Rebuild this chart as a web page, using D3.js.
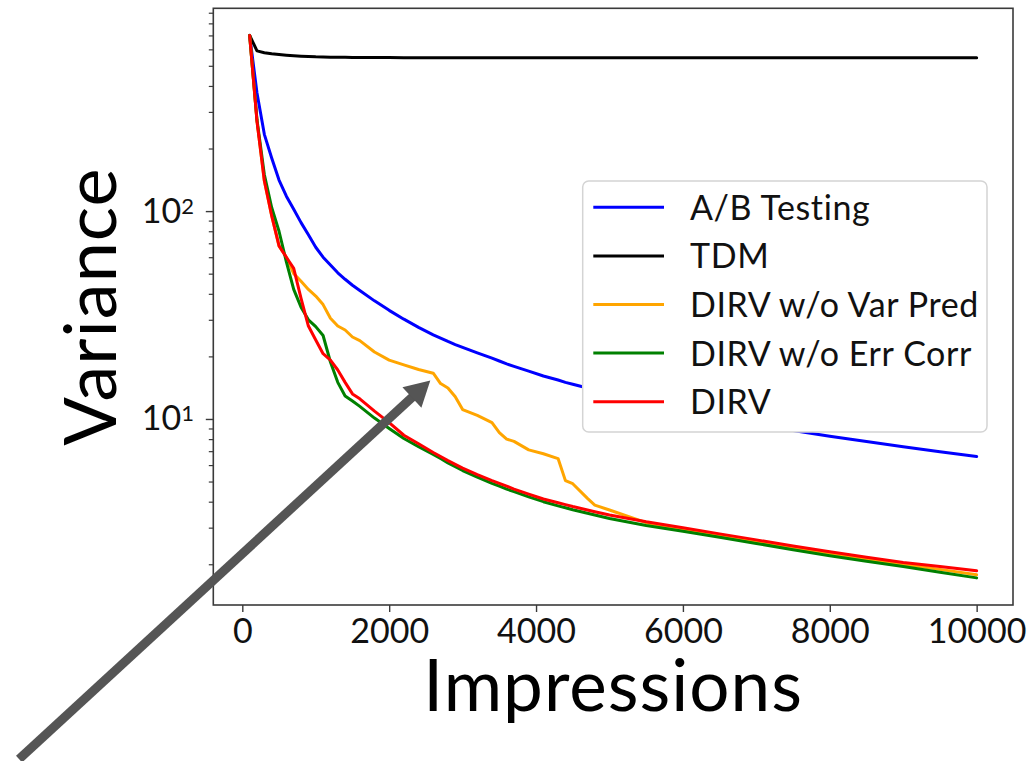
<!DOCTYPE html>
<html>
<head>
<meta charset="utf-8">
<script src="https://cdn.jsdelivr.net/npm/d3@7/dist/d3.min.js"></script>
<style>
  html, body { margin: 0; padding: 0; background: #fff; }
  svg { display: block; font-family: Lato, "Open Sans", sans-serif; }
</style>
</head>
<body>
<svg id="chart" width="1033" height="761"></svg>
<script>
// Impressions at which each variance estimate was recorded
const impressions = [100,200,300,400,500,600,700,800,900,1000,1100,1200,1300,1400,1500,1600,1800,2000,2200,2400,2600,2700,2800,2900,3000,3200,3400,3500,3600,3700,3900,4100,4300,4400,4500,4700,4800,5000,5500,6000,6500,7000,7500,8000,8500,9000,9500,10000];

const abTesting = [700,370,234,180,141,118,102,88,77,67,60,55,50.5,47,44,41.5,37,33.3,30.2,27.6,25.4,24.5,23.6,22.8,22.1,20.8,19.6,19.0,18.4,17.9,17.0,16.1,15.4,15.0,14.7,14.1,13.8,13.2,12.0,11.0,10.2,9.45,8.8,8.25,7.8,7.35,6.95,6.6];

const tdm = [700,590,578,571,566,562,559,556,554,552,551,550,549,549,548,548,548,548,547,547,547,547,547,547,547,547,547,547,547,547,547,547,547,547,547,546,546,546,546,546,546,546,546,546,546,546,546,546];

const dirvNoVarPred = [700,270,140,95,68,60,50,46,42,39,35.5,30.5,28,26.8,24.8,23.8,21,19.2,18.2,17.3,16.6,14.8,14.1,12.8,11.1,10.4,9.6,8.6,8.0,7.8,7.1,6.8,6.45,5.05,4.88,4.15,3.85,3.65,3.17,2.95,2.76,2.58,2.41,2.26,2.12,2.0,1.89,1.78];

const dirvNoErrCorr = [700,275,150,104,80,57,42,34.5,30,27.8,25.2,18.8,15.0,12.9,12.2,11.5,10.1,9.0,8.05,7.35,6.75,6.45,6.15,5.9,5.65,5.25,4.9,4.75,4.6,4.47,4.22,4.0,3.82,3.74,3.66,3.52,3.45,3.32,3.07,2.88,2.7,2.52,2.35,2.2,2.07,1.95,1.83,1.72];

const dirv = [700,270,140,95,68,60,53,38,28,24,20.6,19.2,17.2,15.0,13.2,12.5,10.9,9.6,8.35,7.6,6.9,6.6,6.3,6.05,5.8,5.4,5.05,4.9,4.75,4.6,4.35,4.12,3.95,3.87,3.79,3.65,3.58,3.45,3.2,3.0,2.8,2.62,2.45,2.3,2.16,2.04,1.95,1.86];

const seriesNames  = ["A/B Testing", "TDM", "DIRV w/o Var Pred", "DIRV w/o Err Corr", "DIRV"];
const seriesColors = ["#0000ff", "#000000", "#ffa500", "#008000", "#ff0000"];
const seriesValues = [abTesting, tdm, dirvNoVarPred, dirvNoErrCorr, dirv];

const xTickValues = [0, 2000, 4000, 6000, 8000, 10000];
const yMajorTicks = [10, 100];

// Annotation arrow, in data units: from outside the axes toward the Var Pred step
const arrowTail = { x: -3040, y: 0.231 };
const arrowTip  = { x: 2560, y: 15.3 };

const svg = d3.select("#chart");
const plot = { left: 213.3, top: 8.3, right: 1013, bottom: 605 };

// 5% padding around the data, linear in x and in log space for y
const xMin = d3.min(impressions), xMax = d3.max(impressions);
const xPad = (xMax - xMin) * 0.05;
const allVals = seriesValues.flat();
const lMin = Math.log10(d3.min(allVals)), lMax = Math.log10(d3.max(allVals));
const lPad = (lMax - lMin) * 0.05;

const x = d3.scaleLinear().domain([xMin - xPad, xMax + xPad]).range([plot.left, plot.right]);
const y = d3.scaleLog().domain([Math.pow(10, lMin - lPad), Math.pow(10, lMax + lPad)]).range([plot.bottom, plot.top]);

svg.append("defs").append("clipPath").attr("id", "plotClip")
  .append("rect")
  .attr("x", plot.left).attr("y", plot.top)
  .attr("width", plot.right - plot.left).attr("height", plot.bottom - plot.top);

// Data lines
const line = d3.line().x(d => x(d.x)).y(d => y(d.y));
const linesG = svg.append("g").attr("clip-path", "url(#plotClip)");
seriesValues.forEach((vals, i) => {
  const pts = impressions.map((imp, j) => ({ x: imp, y: vals[j] }));
  linesG.append("path")
    .datum(pts)
    .attr("d", line)
    .attr("fill", "none")
    .attr("stroke", seriesColors[i])
    .attr("stroke-width", 3)
    .attr("stroke-linejoin", "round")
    .attr("stroke-linecap", "round");
});

// Axes frame
const axisColor = "#3a3a3a";
svg.append("rect")
  .attr("x", plot.left).attr("y", plot.top)
  .attr("width", plot.right - plot.left).attr("height", plot.bottom - plot.top)
  .attr("fill", "none").attr("stroke", axisColor).attr("stroke-width", 1.6);

// X axis
const xAxis = d3.axisBottom(x).tickValues(xTickValues).tickSize(7).tickPadding(6).tickFormat(d3.format("d"));
const xg = svg.append("g").attr("transform", `translate(0,${plot.bottom})`).call(xAxis);
xg.select(".domain").remove();
xg.selectAll(".tick line").attr("stroke", axisColor).attr("stroke-width", 1.4);
xg.selectAll(".tick text")
  .attr("fill", "#111").attr("font-size", 34).attr("font-family", "Lato, sans-serif")
  .attr("dy", "0.74em");

// Y axis: minor ticks
const [yLo, yHi] = y.domain();
const minorTicks = [];
for (let k = Math.floor(Math.log10(yLo)); k <= Math.ceil(Math.log10(yHi)); k++) {
  for (let m = 2; m <= 9; m++) {
    const v = m * Math.pow(10, k);
    if (v >= yLo && v <= yHi) minorTicks.push(v);
  }
}
const yMinor = d3.axisLeft(y).tickValues(minorTicks).tickSize(4.5).tickFormat("");
const ymg = svg.append("g").attr("transform", `translate(${plot.left},0)`).call(yMinor);
ymg.select(".domain").remove();
ymg.selectAll(".tick line").attr("stroke", axisColor).attr("stroke-width", 1.2);

// Y axis: major ticks with 10^k labels
const yMajor = d3.axisLeft(y).tickValues(yMajorTicks).tickSize(7.5).tickFormat("");
const yg = svg.append("g").attr("transform", `translate(${plot.left},0)`).call(yMajor);
yg.select(".domain").remove();
yg.selectAll(".tick line").attr("stroke", axisColor).attr("stroke-width", 1.4);
yMajorTicks.forEach(v => {
  const t = svg.append("text")
    .attr("x", 194).attr("y", y(v) + 11.5)
    .attr("text-anchor", "end")
    .attr("font-size", 34).attr("fill", "#111");
  t.append("tspan").text("10");
  t.append("tspan").attr("font-size", 22).attr("dy", -9).text(String(Math.round(Math.log10(v))));
});

// Axis titles
svg.append("text")
  .attr("x", (plot.left + plot.right) / 2).attr("y", 711)
  .attr("text-anchor", "middle").attr("font-size", 71).attr("letter-spacing", 1)
  .attr("fill", "#000")
  .text("Impressions");
svg.append("text")
  .attr("transform", `translate(116,${(plot.top + plot.bottom) / 2}) rotate(-90)`)
  .attr("text-anchor", "middle").attr("font-size", 72).attr("letter-spacing", 1)
  .attr("fill", "#000")
  .text("Variance");

// Legend
const lg = svg.append("g");
lg.append("rect")
  .attr("x", 582.7).attr("y", 181).attr("width", 404.3).attr("height", 251)
  .attr("rx", 6).attr("ry", 6)
  .attr("fill", "#fff").attr("stroke", "#d4d4d4").attr("stroke-width", 1.5);
seriesNames.forEach((name, i) => {
  const cy = 207.3 + i * 48.6;
  lg.append("line")
    .attr("x1", 593.3).attr("x2", 664).attr("y1", cy).attr("y2", cy)
    .attr("stroke", seriesColors[i]).attr("stroke-width", 3);
  lg.append("text")
    .attr("x", 690).attr("y", cy + 12.5)
    .attr("font-size", 34).attr("letter-spacing", 0.6).attr("fill", "#111")
    .text(name);
});

// Annotation arrow
const arrowColor = "#555555";
const tx = x(arrowTail.x), ty = y(arrowTail.y);
const hx = x(arrowTip.x), hy = y(arrowTip.y);
const dx = hx - tx, dy = hy - ty, len = Math.hypot(dx, dy);
const ux = dx / len, uy = dy / len, px = -uy, py = ux;
const headLen = 25, headHalf = 14;
const bx = hx - ux * headLen, by = hy - uy * headLen;
svg.append("line")
  .attr("x1", tx).attr("y1", ty).attr("x2", bx + ux * 2).attr("y2", by + uy * 2)
  .attr("stroke", arrowColor).attr("stroke-width", 9);
svg.append("path")
  .attr("d", `M${hx},${hy} L${bx + px * headHalf},${by + py * headHalf} L${bx - px * headHalf},${by - py * headHalf} Z`)
  .attr("fill", arrowColor);
</script>
</body>
</html>
